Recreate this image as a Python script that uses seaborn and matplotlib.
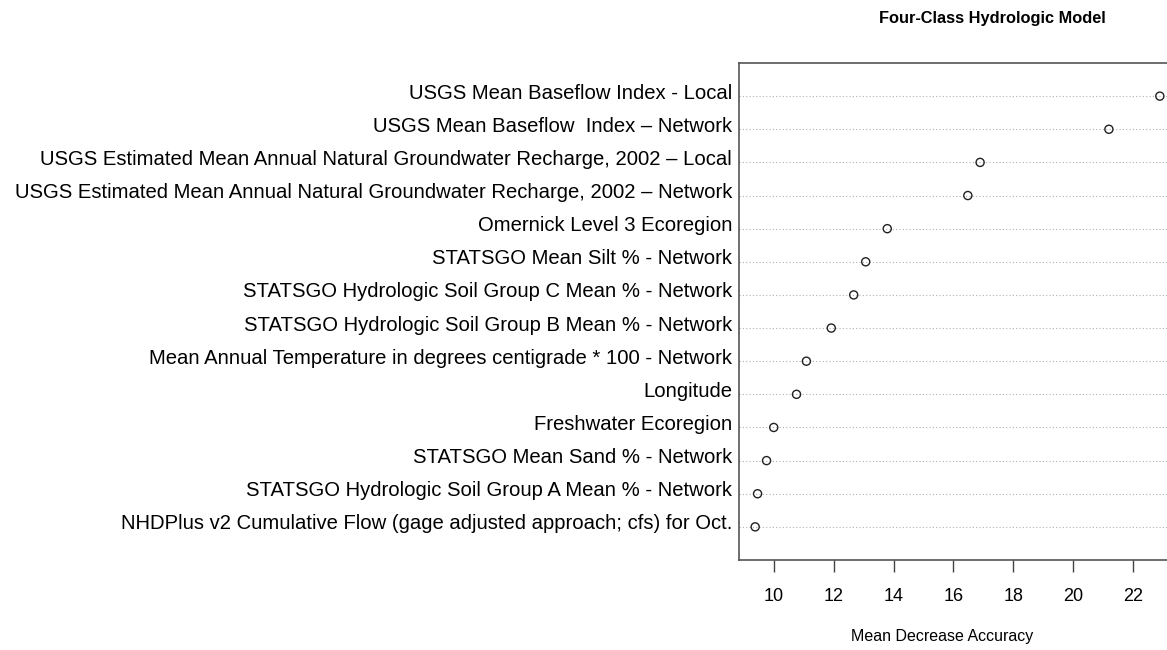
import matplotlib
matplotlib.use("Agg")
import matplotlib.pyplot as plt
from matplotlib.transforms import ScaledTranslation
import seaborn as sns
import pandas as pd

variables = [
    "USGS Mean Baseflow Index - Local",
    "USGS Mean Baseflow  Index \u2013 Network",
    "USGS Estimated Mean Annual Natural Groundwater Recharge, 2002 \u2013 Local",
    "USGS Estimated Mean Annual Natural Groundwater Recharge, 2002 \u2013 Network",
    "Omernick Level 3 Ecoregion",
    "STATSGO Mean Silt % - Network",
    "STATSGO Hydrologic Soil Group C Mean % - Network",
    "STATSGO Hydrologic Soil Group B Mean % - Network",
    "Mean Annual Temperature in degrees centigrade * 100 - Network",
    "Longitude",
    "Freshwater Ecoregion",
    "STATSGO Mean Sand % - Network",
    "STATSGO Hydrologic Soil Group A Mean % - Network",
    "NHDPlus v2 Cumulative Flow (gage adjusted approach; cfs) for Oct.",
]
mda = [22.89, 21.19, 16.89, 16.48, 13.79, 13.07, 12.67, 11.92, 11.09, 10.76,
       10.00, 9.76, 9.46, 9.38]
xticks = [10, 12, 14, 16, 18, 20, 22]

sns.set_style("white")
plt.rcParams["font.family"] = ["Liberation Sans", "DejaVu Sans"]
plt.rcParams["text.color"] = "black"
plt.rcParams["xtick.color"] = "#444444"
plt.rcParams["xtick.labelcolor"] = "black"
plt.rcParams["ytick.labelcolor"] = "black"

df = pd.DataFrame({"variable": variables, "mda": mda})

fig = plt.figure(figsize=(11.67, 6.5), dpi=100)
ax = fig.add_axes([739 / 1167, 90 / 650, (1176 - 739) / 1167, (560 - 63) / 650])

for i in range(len(variables)):
    ax.axhline(i, color="#b0b0b0", linestyle=(0, (1, 2)), linewidth=0.8, zorder=1)

sns.scatterplot(data=df, x="mda", y="variable", ax=ax, marker="o",
                facecolor="none", edgecolor="#222222", linewidth=1.0, s=34, zorder=3)

ax.set_ylim(len(variables), -1)
ax.set_xlim(8.84, 23.43)
ax.set_xticks(xticks)
ax.set_xticklabels([str(t) for t in xticks], fontsize=13)
ax.tick_params(axis="x", length=8.5, width=1, pad=12, bottom=True)
ax.tick_params(axis="y", length=0, pad=5, labelsize=14.6)
ax.set_ylabel("")
ax.set_xlabel("")
for s in ax.spines.values():
    s.set_color("#555555")
    s.set_linewidth(1.2)

shift = ScaledTranslation(0, 5 / 100, fig.dpi_scale_trans)
for lab in ax.get_yticklabels():
    lab.set_transform(lab.get_transform() + shift)

fig.text(992 / 1167, 1 - 19 / 650, "Four-Class Hydrologic Model", ha="center",
         va="center", fontsize=11.75, fontweight="bold", color="black")
fig.text(942 / 1167, 1 - 637 / 650, "Mean Decrease Accuracy", ha="center",
         va="center", fontsize=11.5, color="black")

fig.savefig("out.png", dpi=100)
